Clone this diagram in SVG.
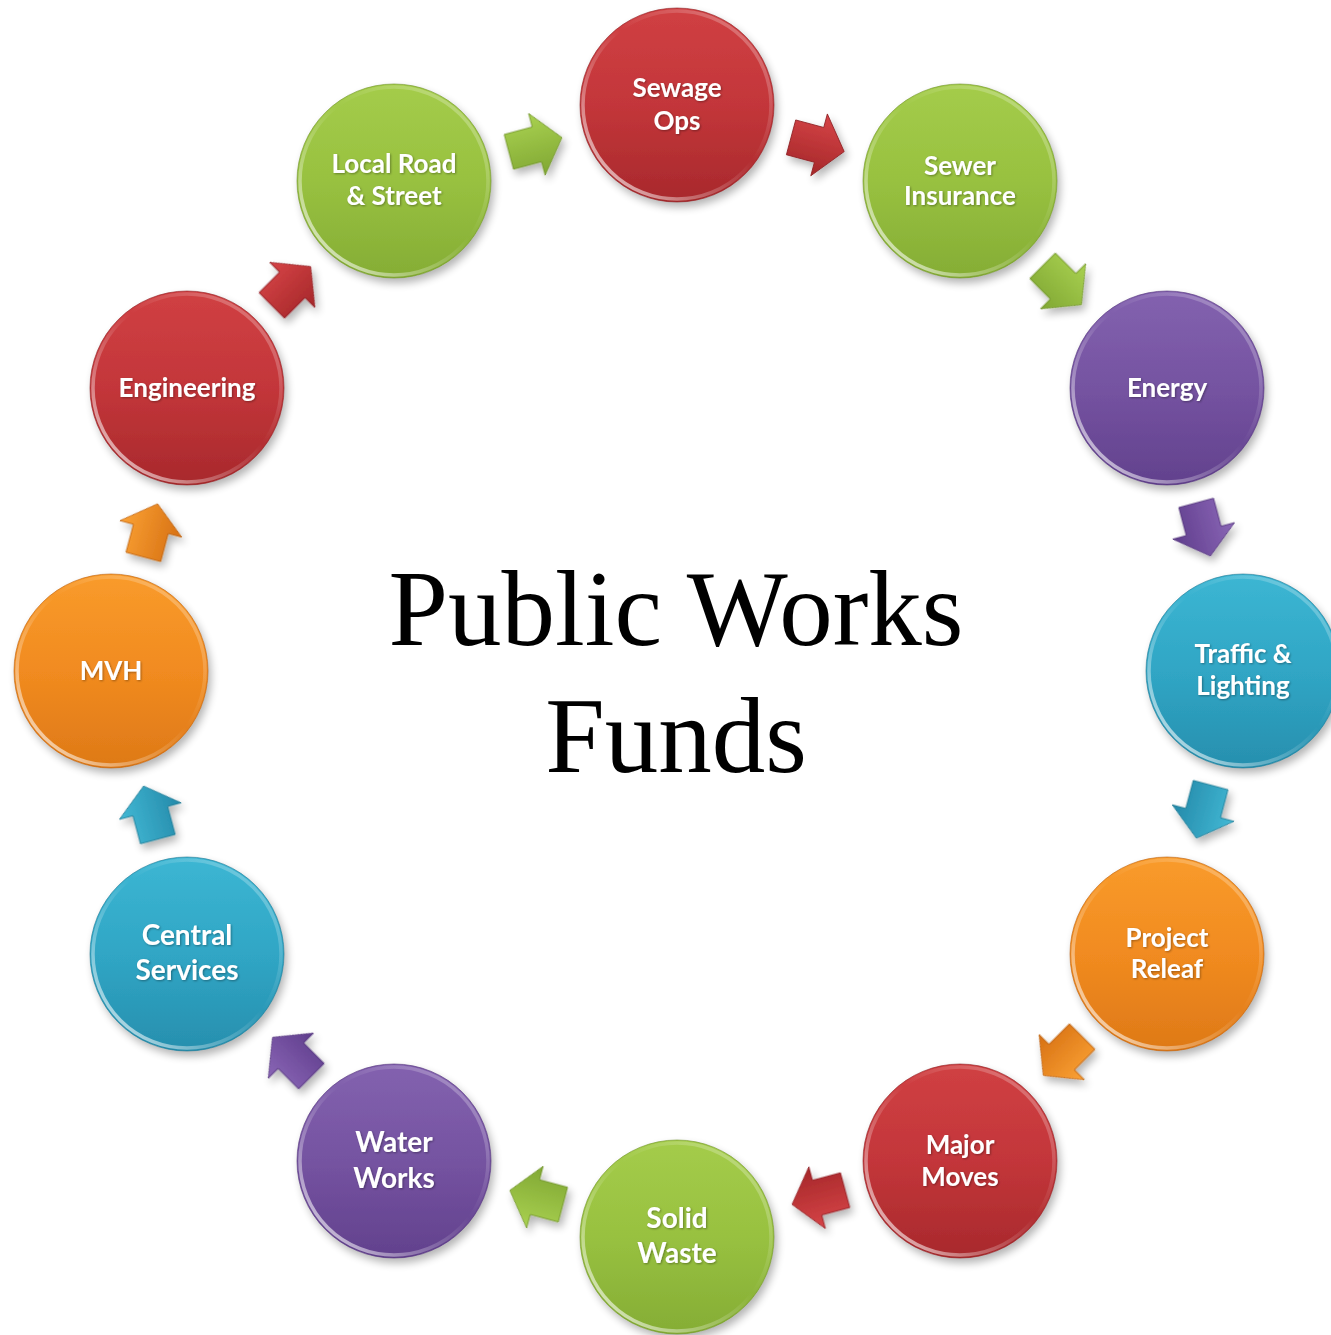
<svg xmlns="http://www.w3.org/2000/svg" width="1331" height="1335" viewBox="0 0 1331 1335">
  <style>
    .lbl { font-family: Lato, "Open Sans", "Liberation Sans", sans-serif; font-weight: bold; font-size: 26px; fill: #ffffff; text-anchor: middle; }
    .big { font-size: 28px; }
    .title { font-family: "Liberation Serif", "Times New Roman", serif; font-size: 107px; fill: #000000; text-anchor: middle; }
    .rim { fill: none; stroke: url(#rimLight); stroke-width: 3.5; }
    .edge { fill: none; stroke-width: 1; stroke-opacity: 0.6; }
  </style>
  <defs>
    <filter id="shadow" x="-30%" y="-30%" width="160%" height="160%">
      <feGaussianBlur in="SourceAlpha" stdDeviation="4"/>
      <feOffset dx="3" dy="5" result="b"/>
      <feComponentTransfer><feFuncA type="linear" slope="0.3"/></feComponentTransfer>
      <feMerge><feMergeNode/><feMergeNode in="SourceGraphic"/></feMerge>
    </filter>
    <filter id="txtShadow" x="-10%" y="-30%" width="120%" height="160%">
      <feGaussianBlur in="SourceAlpha" stdDeviation="1"/>
      <feOffset dx="1" dy="1"/>
      <feComponentTransfer><feFuncA type="linear" slope="0.35"/></feComponentTransfer>
      <feMerge><feMergeNode/><feMergeNode in="SourceGraphic"/></feMerge>
    </filter>
    <!-- ball fills: nearly flat, lighter at the top -->
    <linearGradient id="gRed" x1="0" y1="0" x2="0" y2="1">
      <stop offset="0" stop-color="#d04043"/><stop offset="0.5" stop-color="#c3363a"/><stop offset="1" stop-color="#a8292c"/>
    </linearGradient>
    <linearGradient id="gGreen" x1="0" y1="0" x2="0" y2="1">
      <stop offset="0" stop-color="#a4cc4a"/><stop offset="0.5" stop-color="#98c140"/><stop offset="1" stop-color="#85ad35"/>
    </linearGradient>
    <linearGradient id="gPurple" x1="0" y1="0" x2="0" y2="1">
      <stop offset="0" stop-color="#8362af"/><stop offset="0.5" stop-color="#7553a1"/><stop offset="1" stop-color="#62418d"/>
    </linearGradient>
    <linearGradient id="gBlue" x1="0" y1="0" x2="0" y2="1">
      <stop offset="0" stop-color="#3cb6d3"/><stop offset="0.5" stop-color="#30a6c5"/><stop offset="1" stop-color="#278fae"/>
    </linearGradient>
    <linearGradient id="gOrange" x1="0" y1="0" x2="0" y2="1">
      <stop offset="0" stop-color="#f99b2b"/><stop offset="0.5" stop-color="#f18b20"/><stop offset="1" stop-color="#de7917"/>
    </linearGradient>
    <!-- bevel highlight: strong at lower-left, soft at the top -->
    <linearGradient id="rimLight" x1="0" y1="1" x2="1" y2="0">
      <stop offset="0" stop-color="#ffffff" stop-opacity="0.85"/>
      <stop offset="0.3" stop-color="#ffffff" stop-opacity="0.3"/>
      <stop offset="0.55" stop-color="#ffffff" stop-opacity="0"/>
      <stop offset="0.85" stop-color="#ffffff" stop-opacity="0.25"/>
      <stop offset="1" stop-color="#ffffff" stop-opacity="0.1"/>
    </linearGradient>
    <!-- arrow fills -->
    <linearGradient id="aRed" x1="0" y1="0" x2="0" y2="1"><stop offset="0" stop-color="#d64447"/><stop offset="1" stop-color="#a52729"/></linearGradient>
    <linearGradient id="aGreen" x1="0" y1="0" x2="0" y2="1"><stop offset="0" stop-color="#a9d150"/><stop offset="1" stop-color="#80a733"/></linearGradient>
    <linearGradient id="aPurple" x1="0" y1="0" x2="0" y2="1"><stop offset="0" stop-color="#8a66b6"/><stop offset="1" stop-color="#5f3d8c"/></linearGradient>
    <linearGradient id="aBlue" x1="0" y1="0" x2="0" y2="1"><stop offset="0" stop-color="#42b9d5"/><stop offset="1" stop-color="#2489a9"/></linearGradient>
    <linearGradient id="aOrange" x1="0" y1="0" x2="0" y2="1"><stop offset="0" stop-color="#fba235"/><stop offset="1" stop-color="#d67013"/></linearGradient>
    <!-- block arrow pointing along +x -->
    <path id="arrow" d="M-28,-18 L1,-18 L1,-32 L27,0 L1,32 L1,18 L-28,18 Z"/>
  </defs>

  <rect width="1331" height="1335" fill="#ffffff"/>

  <!-- connectors: block arrows at mid angles on the ring -->
  <g id="connectors" filter="url(#shadow)">
    <use href="#arrow" transform="translate(818.1,144.6) rotate(15)" fill="url(#aRed)" stroke="#8e2023" stroke-width="0.8"/>
    <use href="#arrow" transform="translate(1062.4,285.6) rotate(45)" fill="url(#aGreen)" stroke="#6f9229" stroke-width="0.8"/>
    <use href="#arrow" transform="translate(1203.4,529.9) rotate(75)" fill="url(#aPurple)" stroke="#51327a" stroke-width="0.8"/>
    <use href="#arrow" transform="translate(1203.4,812.1) rotate(105)" fill="url(#aBlue)" stroke="#1f7893" stroke-width="0.8"/>
    <use href="#arrow" transform="translate(1062.4,1056.4) rotate(135)" fill="url(#aOrange)" stroke="#bb6010" stroke-width="0.8"/>
    <use href="#arrow" transform="translate(818.1,1197.4) rotate(165)" fill="url(#aRed)" stroke="#8e2023" stroke-width="0.8"/>
    <use href="#arrow" transform="translate(535.9,1197.4) rotate(195)" fill="url(#aGreen)" stroke="#6f9229" stroke-width="0.8"/>
    <use href="#arrow" transform="translate(291.6,1056.4) rotate(225)" fill="url(#aPurple)" stroke="#51327a" stroke-width="0.8"/>
    <use href="#arrow" transform="translate(150.6,812.1) rotate(255)" fill="url(#aBlue)" stroke="#1f7893" stroke-width="0.8"/>
    <use href="#arrow" transform="translate(150.6,529.9) rotate(285)" fill="url(#aOrange)" stroke="#bb6010" stroke-width="0.8"/>
    <use href="#arrow" transform="translate(291.6,285.6) rotate(315)" fill="url(#aRed)" stroke="#8e2023" stroke-width="0.8"/>
    <use href="#arrow" transform="translate(535.9,144.6) rotate(345)" fill="url(#aGreen)" stroke="#6f9229" stroke-width="0.8"/>
  </g>

  <!-- nodes -->
  <g id="sewage-ops" transform="translate(677,105)">
    <circle r="97" fill="url(#gRed)" filter="url(#shadow)"/>
    <circle r="94" class="rim"/>
    <circle r="97" class="edge" stroke="#8e2023"/>
    <g filter="url(#txtShadow)"><text class="lbl" y="-8">Sewage</text><text class="lbl" y="25">Ops</text></g>
  </g>
  <g id="sewer-insurance" transform="translate(960,181)">
    <circle r="97" fill="url(#gGreen)" filter="url(#shadow)"/>
    <circle r="94" class="rim"/>
    <circle r="97" class="edge" stroke="#6f9229"/>
    <g filter="url(#txtShadow)"><text class="lbl" y="-6">Sewer</text><text class="lbl" y="24">Insurance</text></g>
  </g>
  <g id="energy" transform="translate(1167,388)">
    <circle r="97" fill="url(#gPurple)" filter="url(#shadow)"/>
    <circle r="94" class="rim"/>
    <circle r="97" class="edge" stroke="#51327a"/>
    <g filter="url(#txtShadow)"><text class="lbl" y="9">Energy</text></g>
  </g>
  <g id="traffic-lighting" transform="translate(1243,671)">
    <circle r="97" fill="url(#gBlue)" filter="url(#shadow)"/>
    <circle r="94" class="rim"/>
    <circle r="97" class="edge" stroke="#1f7893"/>
    <g filter="url(#txtShadow)"><text class="lbl" y="-8">Traffic &amp;</text><text class="lbl" y="24">Lighting</text></g>
  </g>
  <g id="project-releaf" transform="translate(1167,954)">
    <circle r="97" fill="url(#gOrange)" filter="url(#shadow)"/>
    <circle r="94" class="rim"/>
    <circle r="97" class="edge" stroke="#bb6010"/>
    <g filter="url(#txtShadow)"><text class="lbl" y="-7">Project</text><text class="lbl" y="24">Releaf</text></g>
  </g>
  <g id="major-moves" transform="translate(960,1161)">
    <circle r="97" fill="url(#gRed)" filter="url(#shadow)"/>
    <circle r="94" class="rim"/>
    <circle r="97" class="edge" stroke="#8e2023"/>
    <g filter="url(#txtShadow)"><text class="lbl" y="-7">Major</text><text class="lbl" y="25">Moves</text></g>
  </g>
  <g id="solid-waste" transform="translate(677,1237)">
    <circle r="97" fill="url(#gGreen)" filter="url(#shadow)"/>
    <circle r="94" class="rim"/>
    <circle r="97" class="edge" stroke="#6f9229"/>
    <g filter="url(#txtShadow)"><text class="lbl big" y="-9">Solid</text><text class="lbl big" y="26">Waste</text></g>
  </g>
  <g id="water-works" transform="translate(394,1161)">
    <circle r="97" fill="url(#gPurple)" filter="url(#shadow)"/>
    <circle r="94" class="rim"/>
    <circle r="97" class="edge" stroke="#51327a"/>
    <g filter="url(#txtShadow)"><text class="lbl big" y="-9">Water</text><text class="lbl big" y="27">Works</text></g>
  </g>
  <g id="central-services" transform="translate(187,954)">
    <circle r="97" fill="url(#gBlue)" filter="url(#shadow)"/>
    <circle r="94" class="rim"/>
    <circle r="97" class="edge" stroke="#1f7893"/>
    <g filter="url(#txtShadow)"><text class="lbl big" y="-9">Central</text><text class="lbl big" y="26">Services</text></g>
  </g>
  <g id="mvh" transform="translate(111,671)">
    <circle r="97" fill="url(#gOrange)" filter="url(#shadow)"/>
    <circle r="94" class="rim"/>
    <circle r="97" class="edge" stroke="#bb6010"/>
    <g filter="url(#txtShadow)"><text class="lbl" y="9">MVH</text></g>
  </g>
  <g id="engineering" transform="translate(187,388)">
    <circle r="97" fill="url(#gRed)" filter="url(#shadow)"/>
    <circle r="94" class="rim"/>
    <circle r="97" class="edge" stroke="#8e2023"/>
    <g filter="url(#txtShadow)"><text class="lbl" y="9">Engineering</text></g>
  </g>
  <g id="local-road-street" transform="translate(394,181)">
    <circle r="97" fill="url(#gGreen)" filter="url(#shadow)"/>
    <circle r="94" class="rim"/>
    <circle r="97" class="edge" stroke="#6f9229"/>
    <g filter="url(#txtShadow)"><text class="lbl" y="-8">Local Road</text><text class="lbl" y="24">&amp; Street</text></g>
  </g>

  <!-- centre title -->
  <g id="title">
    <text class="title" x="676" y="645">Public Works</text>
    <text class="title" x="676" y="772">Funds</text>
  </g>
</svg>
